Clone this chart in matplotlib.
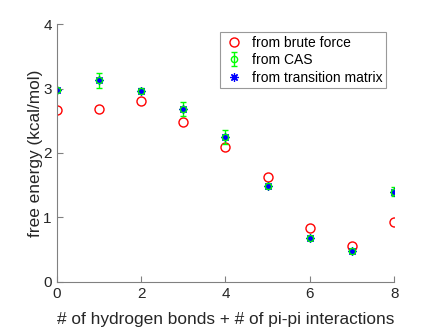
import matplotlib
matplotlib.use("Agg")
import matplotlib.pyplot as plt

plt.rcParams['font.family'] = ['Liberation Sans', 'DejaVu Sans']

# number of hydrogen bonds + pi-pi interactions
n_bonds = [0, 1, 2, 3, 4, 5, 6, 7, 8]
# free energy values (kcal/mol)
brute_force = [2.67, 2.69, 2.80, 2.48, 2.10, 1.63, 0.83, 0.56, 0.92]
cas = [2.98, 3.13, 2.97, 2.68, 2.25, 1.49, 0.68, 0.47, 1.40]
cas_err = [0.03, 0.115, 0.04, 0.105, 0.11, 0.03, 0.03, 0.03, 0.07]
transition = [2.98, 3.13, 2.97, 2.68, 2.25, 1.49, 0.68, 0.47, 1.40]

fig = plt.figure(figsize=(4.36, 3.27), dpi=100)
ax = fig.add_axes([0.130, 0.1385, 0.774, 0.7875])

h1, = ax.plot(n_bonds, brute_force, 'o', color='red', mfc='none', ms=6.5, mew=1.0,
              label='from brute force', linestyle='none')
h2 = ax.errorbar(n_bonds, cas, yerr=cas_err, fmt='o', color='#00ff00', mfc='none',
                 ms=4.5, mew=1.0, elinewidth=1.0, capsize=2.5, label='from CAS')
h3, = ax.plot(n_bonds, transition, marker=(8, 2, 0), color='blue', ms=6, mew=0.9,
              label='from transition matrix', linestyle='none')

ax.set_xlim(0, 8)
ax.set_ylim(0, 4)
ax.set_xticks([0, 2, 4, 6, 8])
ax.set_yticks([0, 1, 2, 3, 4])
ax.set_xlabel("# of hydrogen bonds + # of pi-pi interactions", fontsize=12.4,
              color='#262626', labelpad=8)
ax.set_ylabel("free energy (kcal/mol)", fontsize=12.4, color='#262626', labelpad=0.5)

for side in ['top', 'right']:
    ax.spines[side].set_visible(False)
for side in ['left', 'bottom']:
    ax.spines[side].set_color('#808080')
    ax.spines[side].set_linewidth(0.8)
ax.tick_params(direction='in', length=4, width=0.8, color='#808080',
               labelsize=11, labelcolor='#262626')
for lbl in ax.get_xticklabels() + ax.get_yticklabels():
    lbl.set_clip_on(False)

leg = ax.legend([h1, h2, h3], ['from brute force', 'from CAS', 'from transition matrix'],
                loc='upper right', bbox_to_anchor=(0.977, 0.969), fontsize=10,
                frameon=True, fancybox=False, edgecolor='#808080',
                handletextpad=0.6, borderpad=0.25, labelspacing=0.25,
                handlelength=1.5, borderaxespad=0)
leg.get_frame().set_linewidth(0.8)

fig.savefig("out.png", dpi=100)
